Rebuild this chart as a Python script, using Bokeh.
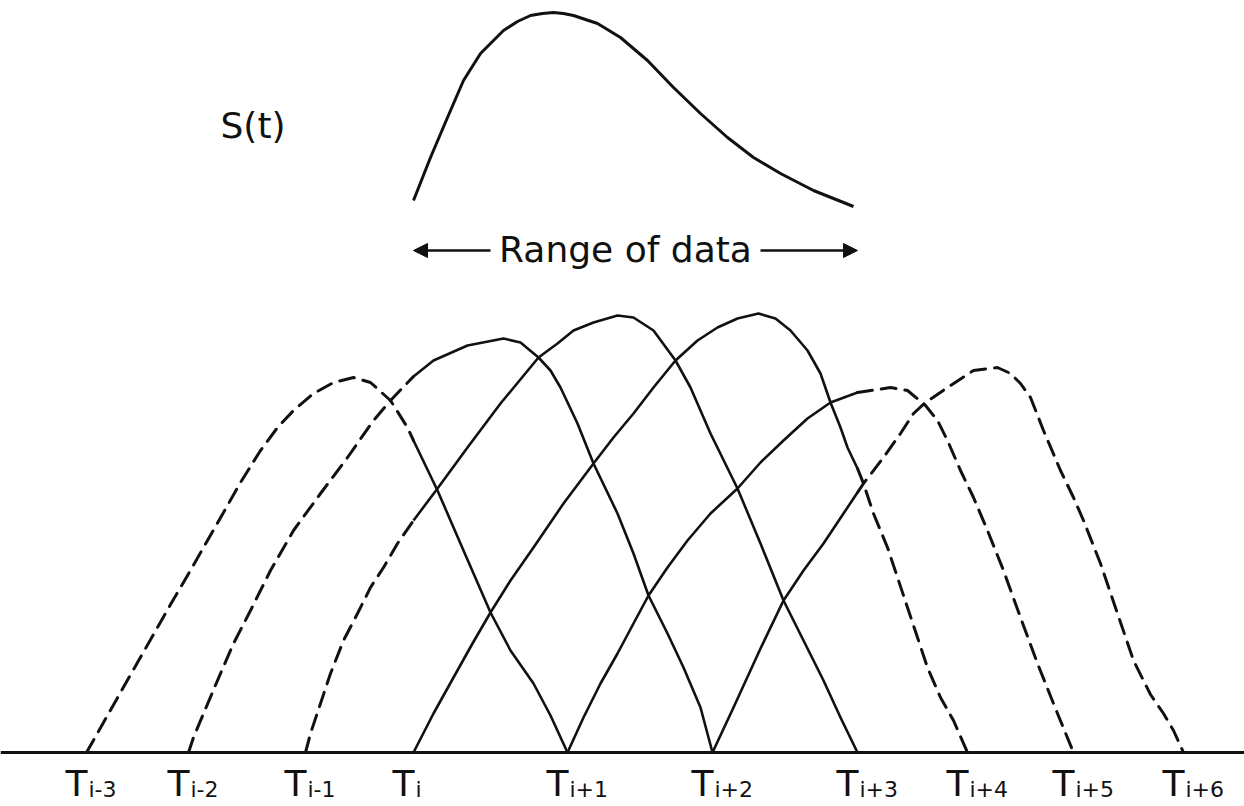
from bokeh.plotting import figure
from bokeh.models import Range1d, Span, Arrow, NormalHead
from bokeh.core.properties import value
from bokeh.embed import file_html
from bokeh.resources import INLINE

# ---------------- data ----------------
# knot positions (arbitrary time units)
knots = [8.6, 18.8, 30.5, 41.3, 56.7, 71.2, 85.7, 96.7, 107.3, 118.3]
knot_subs = ["i-3", "i-2", "i-1", "i", "i+1", "i+2", "i+3", "i+4", "i+5", "i+6"]

# range of data: T_i .. T_{i+3}
range_lo = 41.3
range_hi = 85.7

# basis curves B_{i-3} .. B_{i+2}
b1_t = [8.6, 10.3, 12.0, 13.7, 15.3, 17.0, 18.7, 20.3, 22.3, 24.0, 26.0, 27.7, 29.3, 31.3,
        33.3, 35.3, 37.0, 39.0, 40.7, 41.3, 43.7, 46.3, 49.0, 51.0, 53.3, 55.0, 56.7]
b1_v = [0.00, 0.30, 0.60, 0.90, 1.18, 1.48, 1.77, 2.05, 2.40, 2.70, 3.02, 3.25, 3.42, 3.59,
        3.70, 3.75, 3.70, 3.52, 3.25, 3.12, 2.62, 2.02, 1.40, 1.02, 0.69, 0.37, 0.00]

b2_t = [18.8, 19.3, 20.3, 21.7, 23.3, 25.0, 27.0, 29.3, 32.0, 34.7, 37.3, 39.0, 41.3, 43.3,
        46.7, 50.3, 52.0, 53.8, 55.0, 56.0, 57.7, 59.3, 61.7, 63.3, 64.8, 66.7, 68.3, 70.0, 71.2]
b2_v = [0.00, 0.15, 0.39, 0.72, 1.09, 1.42, 1.82, 2.22, 2.59, 2.95, 3.32, 3.52, 3.76, 3.92,
        4.07, 4.14, 4.10, 3.95, 3.82, 3.65, 3.29, 2.89, 2.39, 1.99, 1.57, 1.19, 0.85, 0.45, 0.00]

b3_t = [30.5, 31.0, 32.0, 33.0, 34.3, 35.7, 37.0, 38.3, 39.7, 41.3, 43.7, 46.7, 50.0, 53.8,
        55.7, 57.3, 59.3, 61.7, 63.3, 65.3, 67.5, 69.0, 71.0, 73.7, 76.0, 78.3, 80.3, 82.3, 84.0, 85.7]
b3_v = [0.00, 0.19, 0.49, 0.79, 1.12, 1.39, 1.65, 1.85, 2.09, 2.32, 2.64, 3.05, 3.49, 3.95,
        4.09, 4.22, 4.30, 4.37, 4.35, 4.22, 3.92, 3.65, 3.19, 2.64, 2.09, 1.52, 1.12, 0.72, 0.35, 0.00]

b4_t = [41.3, 43.3, 45.3, 47.2, 49.0, 51.0, 53.3, 56.3, 59.3, 61.3, 63.3, 65.3, 67.5, 69.7,
        71.7, 73.7, 75.8, 77.5, 79.0, 80.7, 82.0, 83.0, 84.0, 84.7, 85.7, 86.3, 87.3, 88.7, 89.7,
        90.7, 91.7, 92.7, 94.0, 95.3, 96.7]
b4_v = [0.00, 0.39, 0.75, 1.09, 1.40, 1.72, 2.05, 2.49, 2.89, 3.15, 3.39, 3.65, 3.92, 4.12,
        4.25, 4.34, 4.39, 4.34, 4.22, 4.02, 3.79, 3.50, 3.25, 3.05, 2.84, 2.69, 2.39, 2.05, 1.75,
        1.45, 1.15, 0.85, 0.55, 0.32, 0.00]

b5_t = [56.7, 58.3, 60.0, 61.7, 63.3, 64.8, 66.7, 68.7, 71.0, 73.7, 76.0, 78.3, 80.7, 83.0,
        85.7, 89.0, 90.7, 92.5, 93.7, 94.7, 96.0, 97.3, 98.7, 100.3, 102.0, 103.7, 105.7, 107.3]
b5_v = [0.00, 0.35, 0.69, 0.99, 1.29, 1.57, 1.85, 2.12, 2.39, 2.64, 2.90, 3.12, 3.34, 3.50,
        3.60, 3.65, 3.62, 3.47, 3.32, 3.12, 2.82, 2.55, 2.22, 1.82, 1.35, 0.89, 0.39, 0.00]

b6_t = [71.2, 73.3, 76.0, 78.3, 80.3, 82.3, 84.3, 85.7, 86.3, 88.3, 90.0, 91.3, 92.5, 94.7,
        97.3, 99.7, 101.0, 102.0, 103.0, 104.3, 106.0, 107.3, 108.3, 110.0, 111.7, 113.3, 115.0,
        116.3, 117.3, 118.3]
b6_v = [0.00, 0.45, 1.04, 1.52, 1.82, 2.09, 2.39, 2.60, 2.69, 2.95, 3.19, 3.39, 3.50, 3.65,
        3.82, 3.85, 3.79, 3.69, 3.55, 3.22, 2.82, 2.55, 2.32, 1.89, 1.39, 0.92, 0.58, 0.39, 0.22, 0.00]

curves_t = [b1_t, b2_t, b3_t, b4_t, b5_t, b6_t]
curves_v = [b1_v, b2_v, b3_v, b4_v, b5_v, b6_v]

# S(t): the data curve over the range of data
s_t = [41.3, 43.0, 44.7, 46.3, 48.0, 50.3, 51.7, 53.0, 54.2, 55.3, 56.3, 57.3, 58.5, 59.7,
       62.0, 64.7, 67.3, 70.0, 72.7, 75.3, 78.0, 81.3, 85.3]
s_v = [5.52, 5.95, 6.35, 6.72, 6.99, 7.22, 7.31, 7.37, 7.39, 7.40, 7.39, 7.37, 7.33, 7.29,
       7.15, 6.92, 6.65, 6.39, 6.15, 5.95, 5.79, 5.62, 5.46]

# ---------------- figure ----------------
p = figure(width=1244, height=806, x_range=Range1d(0, 124.4), y_range=Range1d(-0.54, 7.52),
           output_backend="svg", toolbar_location=None, min_border=0)
p.axis.visible = False
p.grid.visible = False
p.outline_line_color = None
p.background_fill_color = "white"
p.border_fill_color = "white"

INK = "#111111"

# baseline
p.add_layout(Span(location=0, dimension="width", line_color=INK, line_width=3))


def split(ts, vs, lo, hi):
    left = [(t, v) for t, v in zip(ts, vs) if t <= lo]
    mid = [(t, v) for t, v in zip(ts, vs) if lo <= t <= hi]
    right = [(t, v) for t, v in zip(ts, vs) if t >= hi]
    return left, mid, right


for ts, vs in zip(curves_t, curves_v):
    left, mid, right = split(ts, vs, range_lo, range_hi)
    for seg, dashed in ((left, True), (mid, False), (right, True)):
        if len(seg) < 2:
            continue
        xs = [a for a, _ in seg]
        ys = [b for _, b in seg]
        if dashed:
            p.line(xs, ys, line_color=INK, line_width=3, line_dash="15 9", line_cap="round",
                   line_join="round")
        else:
            p.line(xs, ys, line_color=INK, line_width=2.6, line_join="round")

# S(t)
p.line(s_t, s_v, line_color=INK, line_width=3, line_join="round")
p.text(x=[22.0], y=[6.27], text=["S(t)"], text_font=value("DejaVu Sans"), text_font_size="36px",
       text_align="left", text_baseline="middle", text_color=INK)

# Range of data
p.add_layout(Arrow(end=NormalHead(size=14, fill_color=INK, line_color=INK),
                   x_start=49.0, y_start=5.02, x_end=range_lo, y_end=5.02,
                   line_color=INK, line_width=2.5))
p.add_layout(Arrow(end=NormalHead(size=14, fill_color=INK, line_color=INK),
                   x_start=76.0, y_start=5.02, x_end=range_hi, y_end=5.02,
                   line_color=INK, line_width=2.5))
p.text(x=[62.5], y=[5.03], text=["Range of data"], text_font=value("DejaVu Sans"),
       text_font_size="36px", text_align="center", text_baseline="middle", text_color=INK)

# knot labels T with subscripts
label_v = -0.31
p.text(x=knots, y=[label_v] * len(knots), text=["T"] * len(knots),
       text_font=value("DejaVu Sans"), text_font_size="36px",
       text_align="left", text_baseline="middle", x_offset=-21, text_color=INK)
p.text(x=knots, y=[label_v] * len(knots), text=knot_subs,
       text_font=value("DejaVu Sans"), text_font_size="22px",
       text_align="left", text_baseline="middle", x_offset=2, y_offset=6, text_color=INK)

open("out.html", "w").write(file_html(p, INLINE))
